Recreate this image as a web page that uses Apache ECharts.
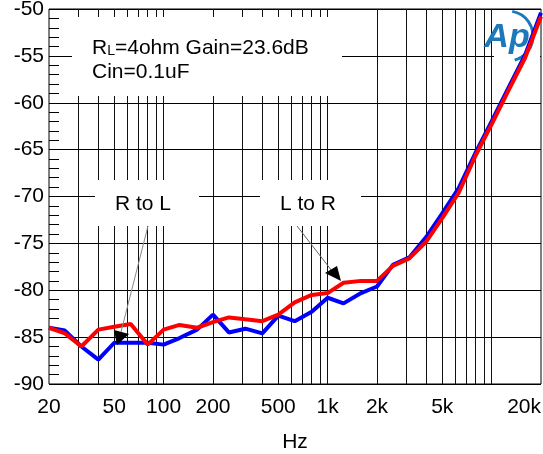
<!DOCTYPE html>
<html><head><meta charset="utf-8">
<script src="https://cdn.jsdelivr.net/npm/echarts@6/dist/echarts.min.js"></script>
<style>html,body{margin:0;padding:0;background:#fff}#c{width:543px;height:454px}</style>
</head><body><div id="c"></div>
<script>
const freqs = [20,25,31.5,40,50,63,80,100,125,160,200,250,315,400,500,630,800,1000,1250,1600,2000,2500,3150,4000,5000,6300,8000,10000,12500,16000,20000];
const blueVals = [-84.0,-84.3,-86.0,-87.4,-85.6,-85.6,-85.6,-85.8,-85.1,-84.2,-82.6,-84.5,-84.1,-84.6,-82.7,-83.3,-82.3,-80.8,-81.4,-80.3,-79.6,-77.3,-76.5,-74.3,-71.8,-69.1,-65.3,-62.0,-58.6,-54.9,-50.4];
const redVals = [-84.0,-84.6,-86.0,-84.2,-83.9,-83.6,-85.8,-84.2,-83.7,-84.0,-83.4,-82.9,-83.1,-83.3,-82.6,-81.3,-80.5,-80.3,-79.2,-79.0,-79.0,-77.4,-76.6,-74.8,-72.3,-69.6,-65.6,-62.3,-58.9,-55.2,-50.8];
const xLabelValues = [20,50,100,200,500,1000,2000,5000,20000];
const xGridValues = [30,40,50,60,70,80,90,100,200,300,400,500,600,700,800,900,1000,2000,3000,4000,5000,6000,7000,8000,9000,10000];
const yMin = -90, yMax = -50, yStep = 5;

const FONT = '"Liberation Sans", Arial, sans-serif';
const chart = echarts.init(document.getElementById('c'), null, {renderer:'canvas'});
const zip = (a,b)=>a.map((v,i)=>[v,b[i]]);

chart.setOption({
  animation:false,
  backgroundColor:'#fff',
  grid:{left:49,right:2,top:9,bottom:70,show:true,borderColor:'#000',borderWidth:1,backgroundColor:'transparent',
    containLabel:false, outerBoundsMode:'none'},
  xAxis:{
    type:'log', logBase:10, min:20, max:20000,
    axisLine:{show:false}, axisTick:{show:false}, splitLine:{show:false},
    axisLabel:{customValues:xLabelValues, fontSize:21, color:'#000', fontFamily:FONT, margin:13,
      showMinLabel:true, showMaxLabel:true, hideOverlap:false, alignMaxLabel:'right',
      formatter:v=>{v=Math.round(v);return v>=1000?(v/1000)+'k':String(v);}},
    name:'Hz', nameLocation:'middle', nameGap:48, nameMoveOverlap:false,
    nameTextStyle:{fontSize:21,color:'#000',fontFamily:FONT}
  },
  yAxis:{
    type:'value', min:yMin, max:yMax, interval:yStep,
    axisLine:{show:false},
    axisTick:{show:true,inside:true,length:10,lineStyle:{color:'#000'}},
    minorTick:{show:true,splitNumber:5,length:10,lineStyle:{color:'#000',width:1}},
    splitLine:{show:true,lineStyle:{color:'#000',width:1}},
    axisLabel:{fontSize:21,color:'#000',fontFamily:FONT,margin:5,showMaxLabel:true,showMinLabel:true}
  },
  series:[
    {type:'line', z:1, data:[], silent:true,
      markLine:{silent:true,z:1,symbol:['none','none'],animation:false,label:{show:false},
        lineStyle:{color:'#111',width:1,type:'solid'},
        data:xGridValues.map(v=>({xAxis:v}))}},
    {type:'line', name:'blue', z:8, data:zip(freqs,blueVals), symbol:'none', lineStyle:{color:'#0000ff',width:4}},
    {type:'line', name:'red', z:9, data:zip(freqs,redVals), symbol:'none', lineStyle:{color:'#ff0000',width:4}}
  ],
  graphic:[
    {type:'rect', z:6, shape:{x:72,y:17,width:270,height:79}, style:{fill:'#fff'}},
    {type:'rect', z:6, shape:{x:95,y:180,width:104,height:46}, style:{fill:'#fff'}},
    {type:'rect', z:6, shape:{x:260,y:180,width:101,height:46}, style:{fill:'#fff'}},
    {type:'rect', z:6, shape:{x:494,y:12,width:46,height:50}, style:{fill:'#fff'}},
    {type:'text', z:7, x:92, y:48, style:{text:'{a|R}{b|L}{a|=4ohm Gain=23.6dB}', verticalAlign:'middle',
      rich:{a:{fontSize:21,fontFamily:FONT,fill:'#000'},b:{fontSize:14,fontFamily:FONT,fill:'#000',verticalAlign:'bottom'}}}},
    {type:'text', z:7, x:92, y:72, style:{text:'Cin=0.1uF',font:'21px '+FONT,fill:'#000',verticalAlign:'middle'}},
    {type:'text', z:7, x:143, y:204, style:{text:'R to L',font:'21px '+FONT,fill:'#000',align:'center',verticalAlign:'middle'}},
    {type:'text', z:7, x:308, y:204, style:{text:'L to R',font:'21px '+FONT,fill:'#000',align:'center',verticalAlign:'middle'}},
    {type:'line', z:10, shape:{x1:148,y1:226,x2:121,y2:332}, style:{stroke:'#888',lineWidth:1}},
    {type:'polygon', z:10, shape:{points:[[114,330],[129,334],[117,345]]}, style:{fill:'#000'}},
    {type:'line', z:10, shape:{x1:297,y1:226,x2:332,y2:271}, style:{stroke:'#666',lineWidth:1}},
    {type:'polygon', z:10, shape:{points:[[325,273],[337,266],[341,281]]}, style:{fill:'#000'}},
    {type:'text', z:7, x:507, y:38, style:{text:'Ap',font:'italic bold 34px '+FONT,fill:'#1c78b8',align:'center',verticalAlign:'middle'}},
    {type:'arc', z:7, shape:{cx:508,cy:36,r:25,startAngle:-1.4,endAngle:1.3}, style:{stroke:'#1c78b8',lineWidth:3,fill:null}}
  ]
});
</script></body></html>
